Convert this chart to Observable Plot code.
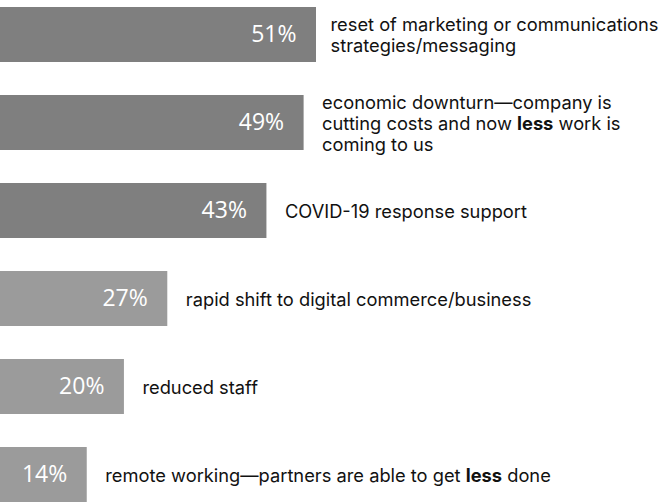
<!DOCTYPE html>
<html><head><meta charset="utf-8">
<script src="https://cdn.jsdelivr.net/npm/d3@7"></script>
<script src="https://cdn.jsdelivr.net/npm/@observablehq/plot@0.6"></script>
<style>body{margin:0;background:#fff}</style>
</head><body>
<div id="chart"></div>
<script>
const categories = [
  "reset of marketing or communications\nstrategies/messaging",
  "economic downturn\u2014company is\ncutting costs and now less work is\ncoming to us",
  "COVID-19 response support",
  "rapid shift to digital commerce/business",
  "reduced staff",
  "remote working\u2014partners are able to get less done"
];
const values = [51, 49, 43, 27, 20, 14];
const shades = ["dark", "dark", "dark", "light", "light", "light"];
const emphasis = "less";

const data = categories.map((label, i) => ({label, value: values[i], shade: shades[i], i}));

const chart = Plot.plot({
  width: 668,
  height: 504,
  margin: 0,
  style: {background: "#fff"},
  x: {domain: [0, 100], range: [0, 619.6], axis: null},
  y: {domain: categories, range: [4, 505], paddingInner: 0.37, paddingOuter: 0, axis: null},
  color: {domain: ["dark", "light"], range: ["#7f7f7f", "#9b9b9b"]},
  marks: [
    Plot.barX(data, {x: "value", y: "label", fill: "shade"}),
    Plot.text(data, {x: "value", y: "label", text: d => d.value + "%", textAnchor: "end", dx: -20,
      fill: "white", fontSize: 23, fontFamily: "Open Sans", fontWeight: 400}),
    Plot.text(data.filter(d => d.i === 0), {x: "value", y: "label", text: "label", textAnchor: "start", dx: 14,
      fill: "#111", fontSize: 18.3, fontFamily: "Inter", lineHeight: 1.15, className: "cat-label"}),
    Plot.text(data.filter(d => d.i > 0), {x: "value", y: "label", text: "label", textAnchor: "start", dx: 18,
      fill: "#111", fontSize: 18.3, fontFamily: "Inter", lineHeight: 1.15, className: "cat-label"})
  ]
});

// bold the emphasized word inside category labels
const re = new RegExp("\\b" + emphasis + "\\b");
chart.querySelectorAll(".cat-label text, .cat-label tspan").forEach(el => {
  Array.from(el.childNodes).forEach(node => {
    if (node.nodeType !== 3) return;
    const s = node.nodeValue;
    const m = s.match(re);
    if (!m) return;
    const ns = "http://www.w3.org/2000/svg";
    const before = document.createTextNode(s.slice(0, m.index));
    const bold = document.createElementNS(ns, "tspan");
    bold.setAttribute("font-weight", "bold");
    bold.textContent = m[0];
    const after = document.createTextNode(s.slice(m.index + m[0].length));
    el.insertBefore(before, node);
    el.insertBefore(bold, node);
    el.insertBefore(after, node);
    el.removeChild(node);
  });
});

document.getElementById("chart").appendChild(chart);
</script>
</body></html>
